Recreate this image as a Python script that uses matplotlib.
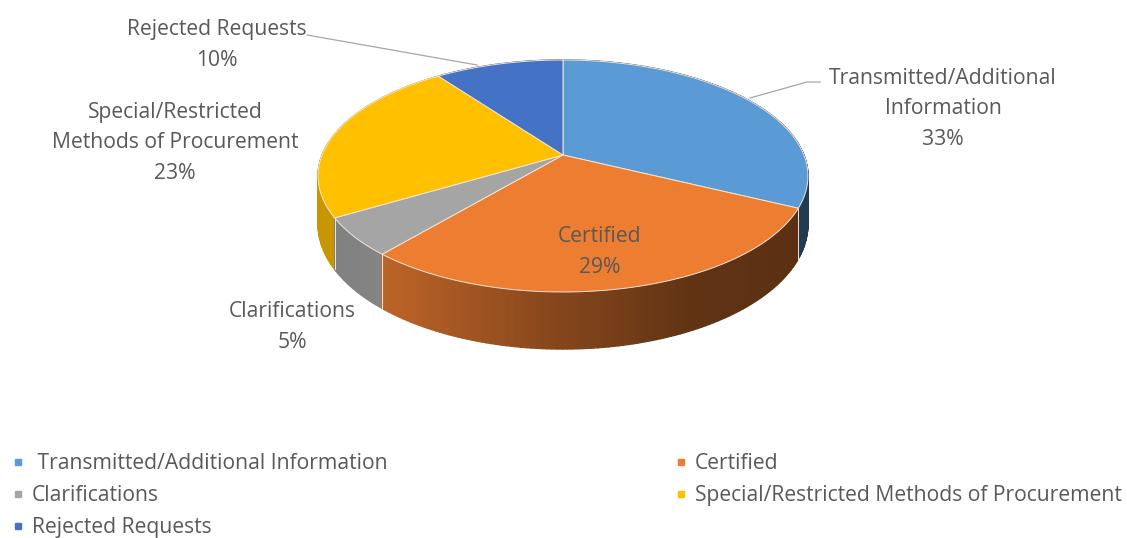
import numpy as np
import matplotlib
matplotlib.use("Agg")
import matplotlib.pyplot as plt
from matplotlib.lines import Line2D

categories = ["Transmitted/Additional Information", "Certified", "Clarifications",
              "Special/Restricted Methods of Procurement", "Rejected Requests"]
values = [32.2, 29.0, 5.3, 23.4, 10.1]
pct_labels = ["33%", "29%", "5%", "23%", "10%"]
colors = ["#5B9BD5", "#ED7D31", "#A5A5A5", "#FFC000", "#4472C4"]
label_text = ["Transmitted/Additional\nInformation", "Certified", "Clarifications",
              "Special/Restricted\nMethods of Procurement", "Rejected Requests"]
label_pos = [(943, 109), (600, 252), (292, 327), (175, 143), (217, 45)]

W, H = 1127, 538
plt.rcParams['font.family'] = ['Open Sans', 'DejaVu Sans']
fig = plt.figure(figsize=(W / 100, H / 100), dpi=100)
ax = fig.add_axes([0, 0, 1, 1])
ax.set_xlim(0, W)
ax.set_ylim(H, 0)
ax.axis("off")

CX, CY, K, A, C, D = 563, 155, 240.9, 112.2, 0.181, 46.7


def project(theta, r=1.0):
    u, v = r * np.sin(theta), r * np.cos(theta)
    den = 1 + C * v
    return CX + K * u / den, CY - A * v / den, D / den


def shade(x):
    return np.interp(x, [335, 382, 560, 690, 810], [0.78, 0.80, 0.56, 0.41, 0.38])


edges = np.deg2rad(np.concatenate([[0], np.cumsum(values)]) * 3.6)

# side wall, back to front
quads = []
for i, col in enumerate(colors):
    n = max(int(np.degrees(edges[i + 1] - edges[i])), 2)
    t = np.linspace(edges[i], edges[i + 1], n + 1)
    for a, b in zip(t[:-1], t[1:]):
        quads.append((np.cos((a + b) / 2), a, b, col))
quads.sort(key=lambda q: -q[0])
for _, a, b, col in quads:
    xa, ya, da = project(a)
    xb, yb, db = project(b)
    f = shade((xa + xb) / 2)
    rgb = np.array(matplotlib.colors.to_rgb(col)) * f
    ax.fill([xa, xb, xb, xa], [ya, yb, yb + db, ya + da], facecolor=rgb, edgecolor=rgb,
            lw=1.0, zorder=2)

# vertical separators on the wall
for e in edges[1:4]:
    x, y, d = project(e)
    if np.cos(e) < 0.1:
        ax.plot([x, x], [y, y + d], color="#F5E3D3", lw=0.7, zorder=3)

# top face
for i, col in enumerate(colors):
    t = np.linspace(edges[i], edges[i + 1], 200)
    xs, ys, _ = project(t)
    ax.fill(np.r_[CX, xs], np.r_[CY, ys], facecolor=col, edgecolor="#F3E4D6", lw=0.7,
            joinstyle="round", zorder=4)

# leader lines
ax.plot([820, 807, 750], [82, 82, 98], color="#A6A6A6", lw=0.9, zorder=3)
ax.plot([307, 477], [35, 65], color="#A6A6A6", lw=0.9, zorder=3)

# data labels
for (x, y), lab, pct in zip(label_pos, label_text, pct_labels):
    ax.text(x, y, f"{lab}\n{pct}", ha="center", va="center", fontsize=15.2, color="#595959",
            linespacing=1.58, zorder=5)

# legend: first column then second
order = [0, 2, 4, 1, 3]
handles = [Line2D([], [], ls="", marker="s", ms=4.5, color=colors[i]) for i in order]
names = [(" " if i == 0 else "") + categories[i] for i in order]
leg = ax.legend(handles, names, ncol=2, frameon=False, loc="upper left",
                bbox_to_anchor=(5.4 / W, 1 - 453 / H), bbox_transform=fig.transFigure,
                fontsize=15.2, labelcolor="#595959", handletextpad=0.06, handlelength=1.2,
                labelspacing=0.52, columnspacing=13.3, borderpad=0, borderaxespad=0)

fig.savefig("out.png", dpi=100, facecolor="white")
